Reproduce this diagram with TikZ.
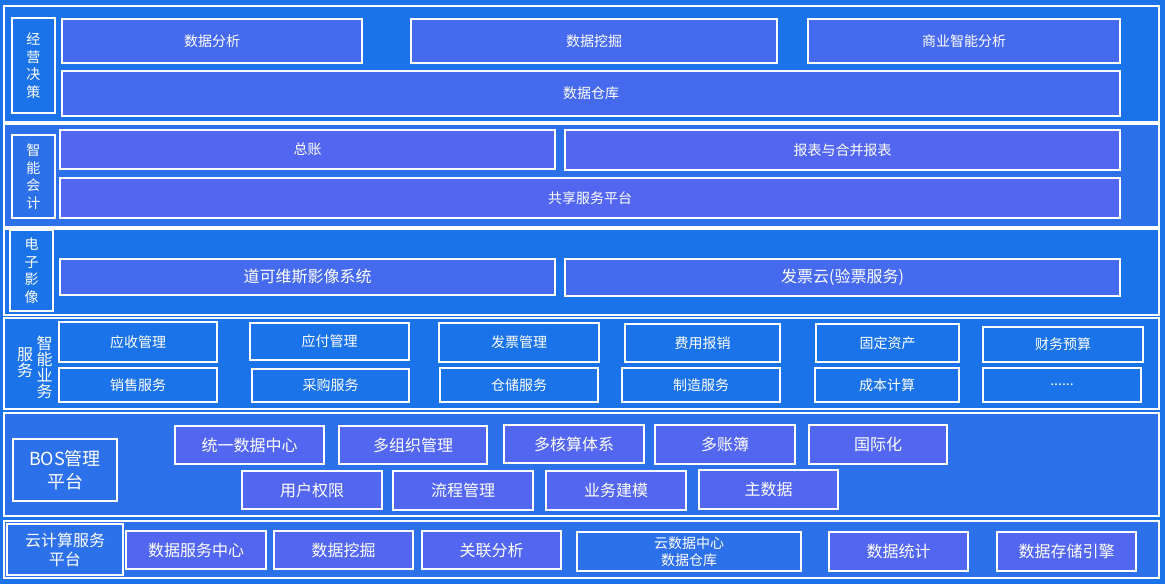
\documentclass[tikz,border=0pt]{standalone}
\usepackage{fontspec}
\setmainfont{Noto Sans CJK SC}
\usepackage{tikz}
\definecolor{bgblue}{RGB}{26,115,232}
\definecolor{layerblue}{RGB}{44,112,234}
\definecolor{boxblue}{RGB}{70,106,238}
\definecolor{boxviolet}{RGB}{82,102,240}

\begin{document}
\begin{tikzpicture}[x=1pt, y=-1pt,
    layer/.style={draw=white, line width=1.2pt},
    blk/.style={draw=white, line width=1.1pt, inner sep=0pt, outer sep=0pt,
        anchor=north west, text=white, align=center},
    wh/.style 2 args={minimum width=#1pt, minimum height=#2pt},
    fa/.style={font=\fontsize{14}{17}\selectfont},
    fb/.style={font=\fontsize{16}{19}\selectfont},
    vtitle/.style={blk, font=\fontsize{14}{17.5}\selectfont}]
    % Background and page size
    \useasboundingbox (0,0) rectangle (1165,584);
    \fill[bgblue] (0,0) rectangle (1165,584);

    % Layers
    \draw[layer, fill=bgblue] (4,6) rectangle (1159,122);
    \draw[layer, fill=layerblue] (4,124) rectangle (1159,227);
    \draw[layer, fill=bgblue] (4,229) rectangle (1159,315);
    \draw[layer, fill=bgblue] (4,318) rectangle (1159,409);
    \draw[layer, fill=layerblue] (4,413) rectangle (1159,516);
    \draw[layer, fill=layerblue] (4,521) rectangle (1159,578);

    % Layer titles
    \node[vtitle, wh={43}{95}] (jyjc) at (12,18) {经\\营\\决\\策};
    \node[vtitle, wh={43}{83}] (znkj) at (12,135) {智\\能\\会\\计};
    \node[vtitle, wh={43}{81}] (dzyx) at (10,230) {电\\子\\影\\像};
    \node[text=white, align=center, font=\fontsize{16}{16}\selectfont] (fw) at (25,363) {服\\务};
    \node[text=white, align=center, font=\fontsize{16}{16}\selectfont] (znyw) at (44.5,367) {智\\能\\业\\务};
    \node[blk, wh={104}{62}, font=\fontsize{18}{23}\selectfont] (bos) at (13,439) {BOS管理\\平台};
    \node[blk, wh={116}{51}, fb] (yjs) at (7,524) {云计算服务\\平台};

    % Decision layer
    \node[blk, fa, fill=boxblue, wh={300}{44}] (sjfx) at (62,19) {数据分析};
    \node[blk, fa, fill=boxblue, wh={366}{44}] (sjwj) at (411,19) {数据挖掘};
    \node[blk, fa, fill=boxblue, wh={312}{44}] (syzn) at (808,19) {商业智能分析};
    \node[blk, fa, fill=boxblue, wh={1058}{45}] (sjck) at (62,71) {数据仓库};

    % Accounting layer
    \node[blk, fa, fill=boxviolet, wh={495}{39}] (zz) at (60,130) {总账};
    \node[blk, fa, fill=boxviolet, wh={555}{40}] (bbhb) at (565,130) {报表与合并报表};
    \node[blk, fa, fill=boxviolet, wh={1060}{40}] (gxfw) at (60,178) {共享服务平台};

    % Imaging layer
    \node[blk, fb, fill=boxblue, wh={495}{36}] (dkws) at (60,259) {道可维斯影像系统};
    \node[blk, fb, fill=boxblue, wh={555}{37}] (fpy) at (565,259) {发票云(验票服务)};

    % Business layer
    \node[blk, fa, wh={158}{40}] (ysgl) at (59,322) {应收管理};
    \node[blk, fa, wh={159}{37}] (yfgl) at (250,323) {应付管理};
    \node[blk, fa, wh={160}{39}] (fpgl) at (439,323) {发票管理};
    \node[blk, fa, wh={155}{38}] (fybx) at (625,324) {费用报销};
    \node[blk, fa, wh={143}{38}] (gdzc) at (816,324) {固定资产};
    \node[blk, fa, wh={160}{35}] (cwys) at (983,327) {财务预算};
    \node[blk, fa, wh={158}{34}] (xsfw) at (59,368) {销售服务};
    \node[blk, fa, wh={157}{33}] (cgfw) at (252,369) {采购服务};
    \node[blk, fa, wh={158}{34}] (ccfw) at (440,368) {仓储服务};
    \node[blk, fa, wh={158}{34}] (zzfw) at (622,368) {制造服务};
    \node[blk, fa, wh={144}{34}] (cbjs) at (815,368) {成本计算};
    \node[blk, fa, wh={158}{34}] (more) at (983,368) {......};

    % BOS layer
    \node[blk, fb, fill=boxviolet, wh={149}{38}] (tysj) at (175,426) {统一数据中心};
    \node[blk, fb, fill=boxviolet, wh={148}{38}] (dzz) at (339,426) {多组织管理};
    \node[blk, fb, fill=boxviolet, wh={140}{38}] (dhs) at (504,425) {多核算体系};
    \node[blk, fb, fill=boxviolet, wh={140}{39}] (dzb) at (655,425) {多账簿};
    \node[blk, fb, fill=boxviolet, wh={138}{39}] (gjh) at (809,425) {国际化};
    \node[blk, fb, fill=boxviolet, wh={140}{38}] (yhqx) at (242,471) {用户权限};
    \node[blk, fb, fill=boxviolet, wh={140}{39}] (lcgl) at (393,471) {流程管理};
    \node[blk, fb, fill=boxviolet, wh={140}{39}] (ywjm) at (546,471) {业务建模};
    \node[blk, fb, fill=boxviolet, wh={139}{39}] (zsj) at (699,470) {主数据};

    % Cloud layer
    \node[blk, fb, fill=boxviolet, wh={140}{38}] (sjfwzx) at (126,531) {数据服务中心};
    \node[blk, fb, fill=boxviolet, wh={139}{38}] (yjwj) at (274,531) {数据挖掘};
    \node[blk, fb, fill=boxviolet, wh={139}{38}] (glfx) at (422,531) {关联分析};
    \node[blk, fa, wh={224}{39}] (ysjzx) at (577,532) {云数据中心\\数据仓库};
    \node[blk, fb, fill=boxviolet, wh={139}{39}] (sjtj) at (829,532) {数据统计};
    \node[blk, fb, fill=boxviolet, wh={139}{39}] (sjccyq) at (997,532) {数据存储引擎};
\end{tikzpicture}
\end{document}
